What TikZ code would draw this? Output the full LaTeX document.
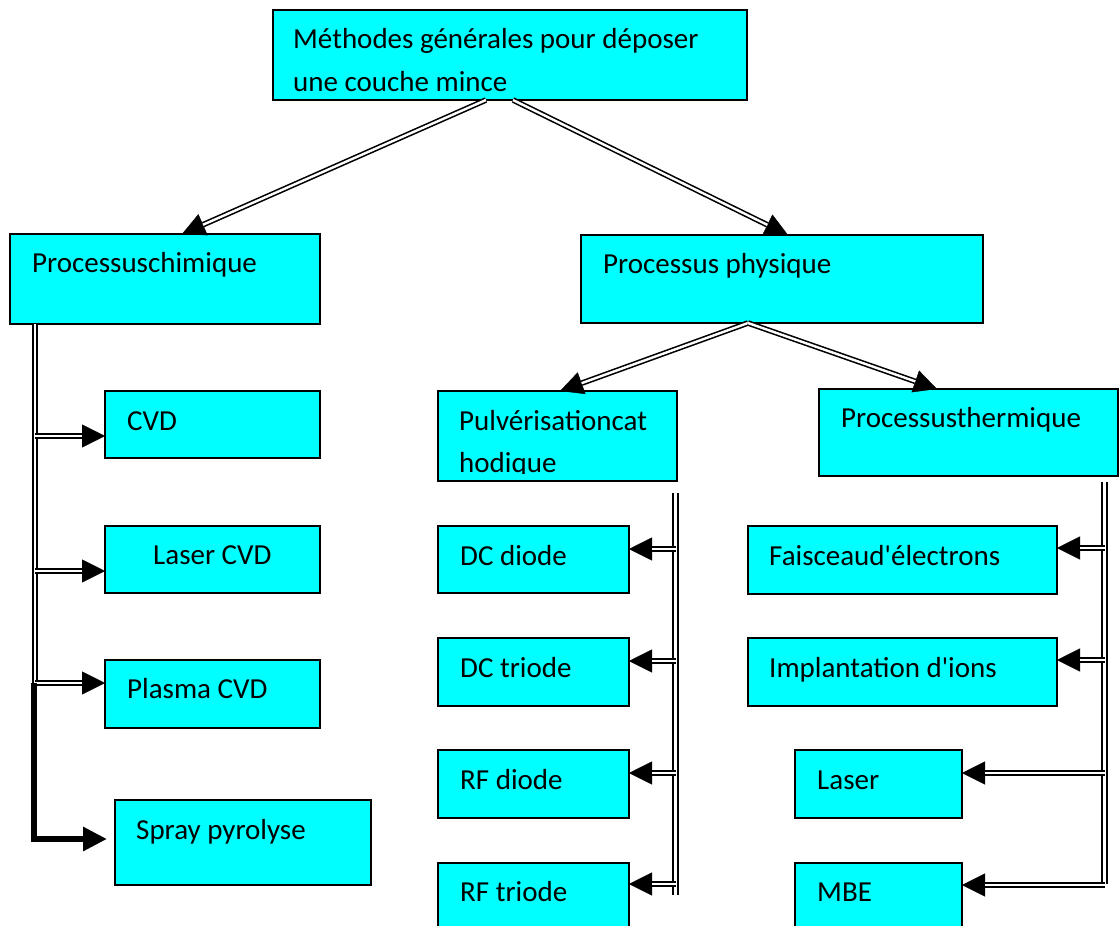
\documentclass[tikz,border=0pt]{standalone}
\usepackage{fontspec}
\setmainfont{Carlito}
\usetikzlibrary{arrows.meta,calc}
\definecolor{cyanbox}{RGB}{0,255,255}

% double-line connector: plain arrow head underneath, doubled shaft on top
\newcommand\dblarrow[3][dbl]{%
  \draw[tipline] (#2) -- (#3);
  \draw[#1, shorten >=23pt] (#2) -- (#3);}

\begin{document}
\begin{tikzpicture}[x=1pt,y=-1pt,
  box/.style={draw=black, line width=1.5pt, fill=cyanbox, anchor=north west,
              inner sep=0pt, outer sep=0pt},
  txt/.style={anchor=base west, inner sep=0pt, font=\fontsize{29}{43}\selectfont},
  dbl/.style={draw=black, line width=1.9pt, double=white, double distance=2.6pt},
  dbldiag/.style={draw=black, line width=1.6pt, double=white, double distance=2.4pt},
  tipline/.style={draw=black, line width=0.4pt, -{Triangle[length=23pt,width=23pt]}},
  heavy/.style={line width=6pt, line join=miter, -{Triangle[length=24pt,width=23pt]}}
]
\useasboundingbox (0,0) rectangle (1120,926);
\clip (0,0) rectangle (1120,926);

% ---------- boxes ----------
\node[box, minimum width=474pt, minimum height=90pt] (top)   at (273,10)  {};
\node[box, minimum width=310pt, minimum height=90pt] (chim)  at (10,234)  {};
\node[box, minimum width=402pt, minimum height=88pt] (phys)  at (581,235) {};

\node[box, minimum width=215pt, minimum height=67pt] (cvd)   at (105,391) {};
\node[box, minimum width=215pt, minimum height=67pt] (lcvd)  at (105,526) {};
\node[box, minimum width=215pt, minimum height=68pt] (pcvd)  at (105,660) {};
\node[box, minimum width=256pt, minimum height=85pt] (spray) at (115,800) {};

\node[box, minimum width=239pt, minimum height=90pt] (pulv)  at (438,391) {};
\node[box, minimum width=299pt, minimum height=87pt] (therm) at (819,389) {};

\node[box, minimum width=191pt, minimum height=67pt] (dcd)   at (438,526) {};
\node[box, minimum width=191pt, minimum height=68pt] (dct)   at (438,638) {};
\node[box, minimum width=191pt, minimum height=68pt] (rfd)   at (438,750) {};
\node[box, minimum width=191pt, minimum height=90pt] (rft)   at (438,863) {};

\node[box, minimum width=309pt, minimum height=68pt] (fais)  at (748,526) {};
\node[box, minimum width=309pt, minimum height=68pt] (impl)  at (748,638) {};
\node[box, minimum width=167pt, minimum height=68pt] (laser) at (795,750) {};
\node[box, minimum width=167pt, minimum height=90pt] (mbe)   at (795,863) {};

% ---------- labels ----------
\node[txt] (top-a)   at (293,48)  {Méthodes générales pour déposer};
\node[txt] (top-b)   at (293,91)  {une couche mince};
\node[txt] (chim-t)  at (32,272)  {Processuschimique};
\node[txt] (phys-t)  at (603,273) {Processus physique};
\node[txt] (cvd-t)   at (127,430) {CVD};
\node[txt] (lcvd-t)  at (153,564) {Laser CVD};
\node[txt] (pcvd-t)  at (127,698) {Plasma CVD};
\node[txt] (spray-t) at (136,839) {Spray pyrolyse};
\node[txt] (pulv-a)  at (459,430) {Pulvérisationcat};
\begin{scope}
  % second line is cut at the text area's lower margin
  \clip (pulv.north west) rectangle ($(pulv.south east)+(0,-8)$);
  \node[txt] (pulv-b) at (459,472) {hodique};
\end{scope}
\node[txt] (therm-t) at (841,427) {Processusthermique};
\node[txt] (dcd-t)   at (460,565) {DC diode};
\node[txt] (dct-t)   at (460,677) {DC triode};
\node[txt] (rfd-t)   at (460,789) {RF diode};
\node[txt] (rft-t)   at (460,901) {RF triode};
\node[txt] (fais-t)  at (769,565) {Faisceaud\textquotesingle électrons};
\node[txt] (impl-t)  at (769,677) {Implantation d\textquotesingle ions};
\node[txt] (laser-t) at (817,789) {Laser};
\node[txt] (mbe-t)   at (817,901) {MBE};

% ---------- first level ----------
\coordinate (top-l) at ($(top.south west)+(213,0)$);
\coordinate (top-r) at ($(top.south west)+(240,0)$);
\coordinate (chim-in) at ($(chim.north west)+(172,0)$);
\coordinate (phys-in) at ($(phys.north west)+(207,0)$);
\dblarrow[dbldiag]{top-l}{chim-in}
\dblarrow[dbldiag]{top-r}{phys-in}

% ---------- physical branch split ----------
\coordinate (phys-o) at ($(phys.south west)+(167,0)$);
\coordinate (pulv-in) at ($(pulv.north west)+(122,0)$);
\coordinate (therm-in) at ($(therm.north west)+(118,0)$);
\dblarrow[dbldiag]{phys-o}{pulv-in}
\dblarrow[dbldiag]{phys-o}{therm-in}

% ---------- chemical spine ----------
\coordinate (lspine) at (35,683);
\coordinate (cvd-in)  at ($(cvd.north west)+(0,45)$);
\coordinate (lcvd-in) at ($(lcvd.north west)+(0,45)$);
\coordinate (pcvd-in) at ($(pcvd.north west)+(0,23)$);
\draw[dbl] (chim.south -| lspine) -- (lspine);
\dblarrow{lspine |- cvd-in}{cvd-in}
\dblarrow{lspine |- lcvd-in}{lcvd-in}
\dblarrow{lspine |- pcvd-in}{pcvd-in}
\coordinate (spray-in) at ($(spray.north west)+(-8,39)$);
\coordinate (lbend) at (33.5,683);
\draw[heavy] (lbend) -- (lbend |- spray-in) -- (spray-in);

% ---------- sputtering spine ----------
\coordinate (mtop) at (675.5,493);
\coordinate (mbot) at (675.5,895);
\draw[dbl] (mtop) -- (mbot);
\coordinate (dcd-in) at ($(dcd.north east)+(0,23)$);
\coordinate (dct-in) at ($(dct.north east)+(0,23)$);
\coordinate (rfd-in) at ($(rfd.north east)+(0,23)$);
\coordinate (rft-in) at ($(rft.north east)+(0,21)$);
\dblarrow{mtop |- dcd-in}{dcd-in}
\dblarrow{mtop |- dct-in}{dct-in}
\dblarrow{mtop |- rfd-in}{rfd-in}
\dblarrow{mtop |- rft-in}{rft-in}

% ---------- thermal spine ----------
\coordinate (rtop) at (1104.5,482);
\coordinate (rbot) at (1104.5,884);
\draw[dbl] (rtop) -- (rbot);
\coordinate (fais-in)  at ($(fais.north east)+(0,22)$);
\coordinate (impl-in)  at ($(impl.north east)+(0,22)$);
\coordinate (laser-in) at ($(laser.north east)+(0,23)$);
\coordinate (mbe-in)   at ($(mbe.north east)+(0,22)$);
\dblarrow{rtop |- fais-in}{fais-in}
\dblarrow{rtop |- impl-in}{impl-in}
\dblarrow{rtop |- laser-in}{laser-in}
\dblarrow{rtop |- mbe-in}{mbe-in}
\end{tikzpicture}
\end{document}
